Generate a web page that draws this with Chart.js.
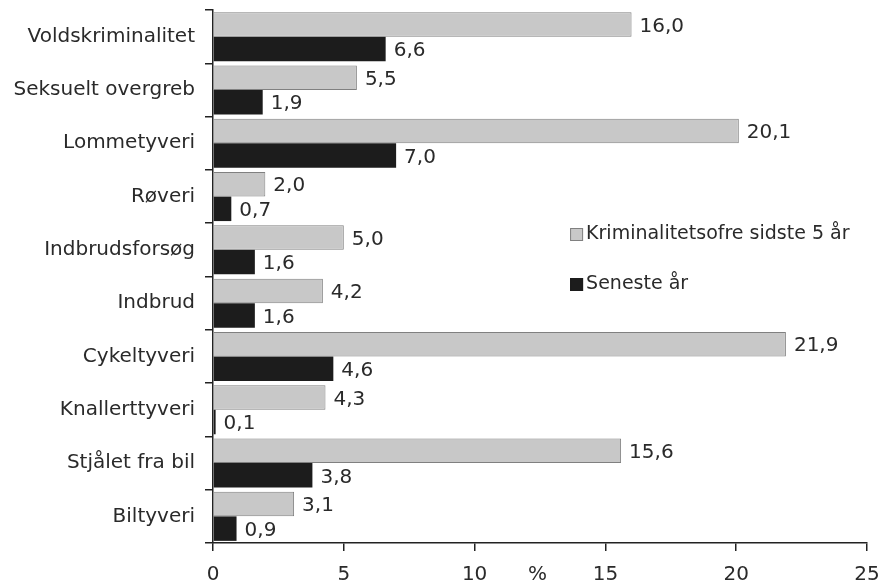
<!DOCTYPE html>
<html>
<head>
<meta charset="utf-8">
<script src="https://cdn.jsdelivr.net/npm/chart.js@4.4.1/dist/chart.umd.min.js"></script>
<style>
  html, body { margin: 0; padding: 0; background: #fff; }
  #wrap { width: 887px; height: 588px; }
</style>
</head>
<body>
<div id="wrap"><canvas id="crimeChart"></canvas></div>
<script>
const categories = ['Voldskriminalitet', 'Seksuelt overgreb', 'Lommetyveri', 'Røveri', 'Indbrudsforsøg',
    'Indbrud', 'Cykeltyveri', 'Knallerttyveri', 'Stjålet fra bil', 'Biltyveri'];
const last5Years = [16.0, 5.5, 20.1, 2.0, 5.0, 4.2, 21.9, 4.3, 15.6, 3.1];
const lastYear = [6.6, 1.9, 7.0, 0.7, 1.6, 1.6, 4.6, 0.1, 3.8, 0.9];
const seriesNames = ['Kriminalitetsofre sidste 5 år', 'Seneste år'];
const xTicks = [0, 5, 10, 15, 20, 25];

const FONT = '"DejaVu Sans", Verdana, sans-serif';
const TEXT = '#2a2a2a';

// value labels to the right of each bar, with decimal comma
const valueLabels = {
    id: 'valueLabels',
    afterDatasetsDraw(chart) {
        const ctx = chart.ctx;
        ctx.save();
        ctx.font = '20px ' + FONT;
        ctx.fillStyle = TEXT;
        ctx.textBaseline = 'middle';
        ctx.textAlign = 'left';
        chart.data.datasets.forEach((ds, i) => {
            chart.getDatasetMeta(i).data.forEach((bar, j) => {
                const txt = ds.data[j].toFixed(1).replace('.', ',');
                ctx.fillText(txt, bar.x + 8, bar.y + 2);
            });
        });
        ctx.restore();
    }
};

// legend inside the plot, plus the "%" unit next to the x ticks
const innerLegend = {
    id: 'innerLegend',
    afterDraw(chart) {
        const ctx = chart.ctx;
        const x = chart.scales.x;
        const area = chart.chartArea;
        ctx.save();
        ctx.font = '19px ' + FONT;
        ctx.textBaseline = 'middle';
        const lx = x.getPixelForValue(13.65);
        const rows = [area.top + 224, area.top + 274];
        chart.data.datasets.forEach((ds, i) => {
            ctx.fillStyle = ds.backgroundColor;
            ctx.strokeStyle = ds.borderColor;
            ctx.lineWidth = 1;
            ctx.fillRect(lx, rows[i] - 6, 13, 13);
            ctx.strokeRect(lx + 0.5, rows[i] - 5.5, 12, 12);
            ctx.fillStyle = TEXT;
            ctx.fillText(ds.label, lx + 16, rows[i]);
        });
        ctx.font = '20px ' + FONT;
        ctx.textAlign = 'center';
        ctx.fillText('%', x.getPixelForValue(12.4), area.bottom + 32);
        ctx.restore();
    }
};

const ctx = document.getElementById('crimeChart').getContext('2d');
new Chart(ctx, {
    type: 'bar',
    data: {
        labels: categories,
        datasets: [{
            label: seriesNames[0],
            data: last5Years,
            backgroundColor: '#c8c8c8',
            borderColor: '#808080',
            borderWidth: 1,
            categoryPercentage: 0.92,
            barPercentage: 1.0
        }, {
            label: seriesNames[1],
            data: lastYear,
            backgroundColor: '#1c1c1c',
            borderColor: '#1c1c1c',
            borderWidth: 0,
            categoryPercentage: 0.92,
            barPercentage: 1.0
        }]
    },
    options: {
        indexAxis: 'y',
        responsive: true,
        maintainAspectRatio: false,
        animation: false,
        layout: { padding: { top: 10, right: 20, left: 0, bottom: 0 } },
        scales: {
            x: {
                min: 0,
                max: 25,
                afterBuildTicks: (scale) => { scale.ticks = xTicks.map(v => ({ value: v })); },
                afterFit: (scale) => { scale.height = 45; scale.paddingLeft = 0; scale.paddingRight = 0; },
                grid: { drawOnChartArea: false, tickLength: 8, color: '#222', lineWidth: 1.5 },
                border: { color: '#222', width: 1.5 },
                ticks: { color: TEXT, font: { family: FONT, size: 20 }, padding: 12, maxRotation: 0 }
            },
            y: {
                afterFit: (scale) => { scale.width = 213; scale.paddingTop = 0; scale.paddingBottom = 0; },
                grid: { drawOnChartArea: false, offset: true, tickLength: 8, color: '#222', lineWidth: 1.5 },
                border: { color: '#222', width: 1.5 },
                ticks: { color: TEXT, font: { family: FONT, size: 20 }, padding: 10 }
            }
        },
        plugins: {
            legend: { display: false },
            tooltip: { enabled: false }
        }
    },
    plugins: [valueLabels, innerLegend]
});
</script>
</body>
</html>
